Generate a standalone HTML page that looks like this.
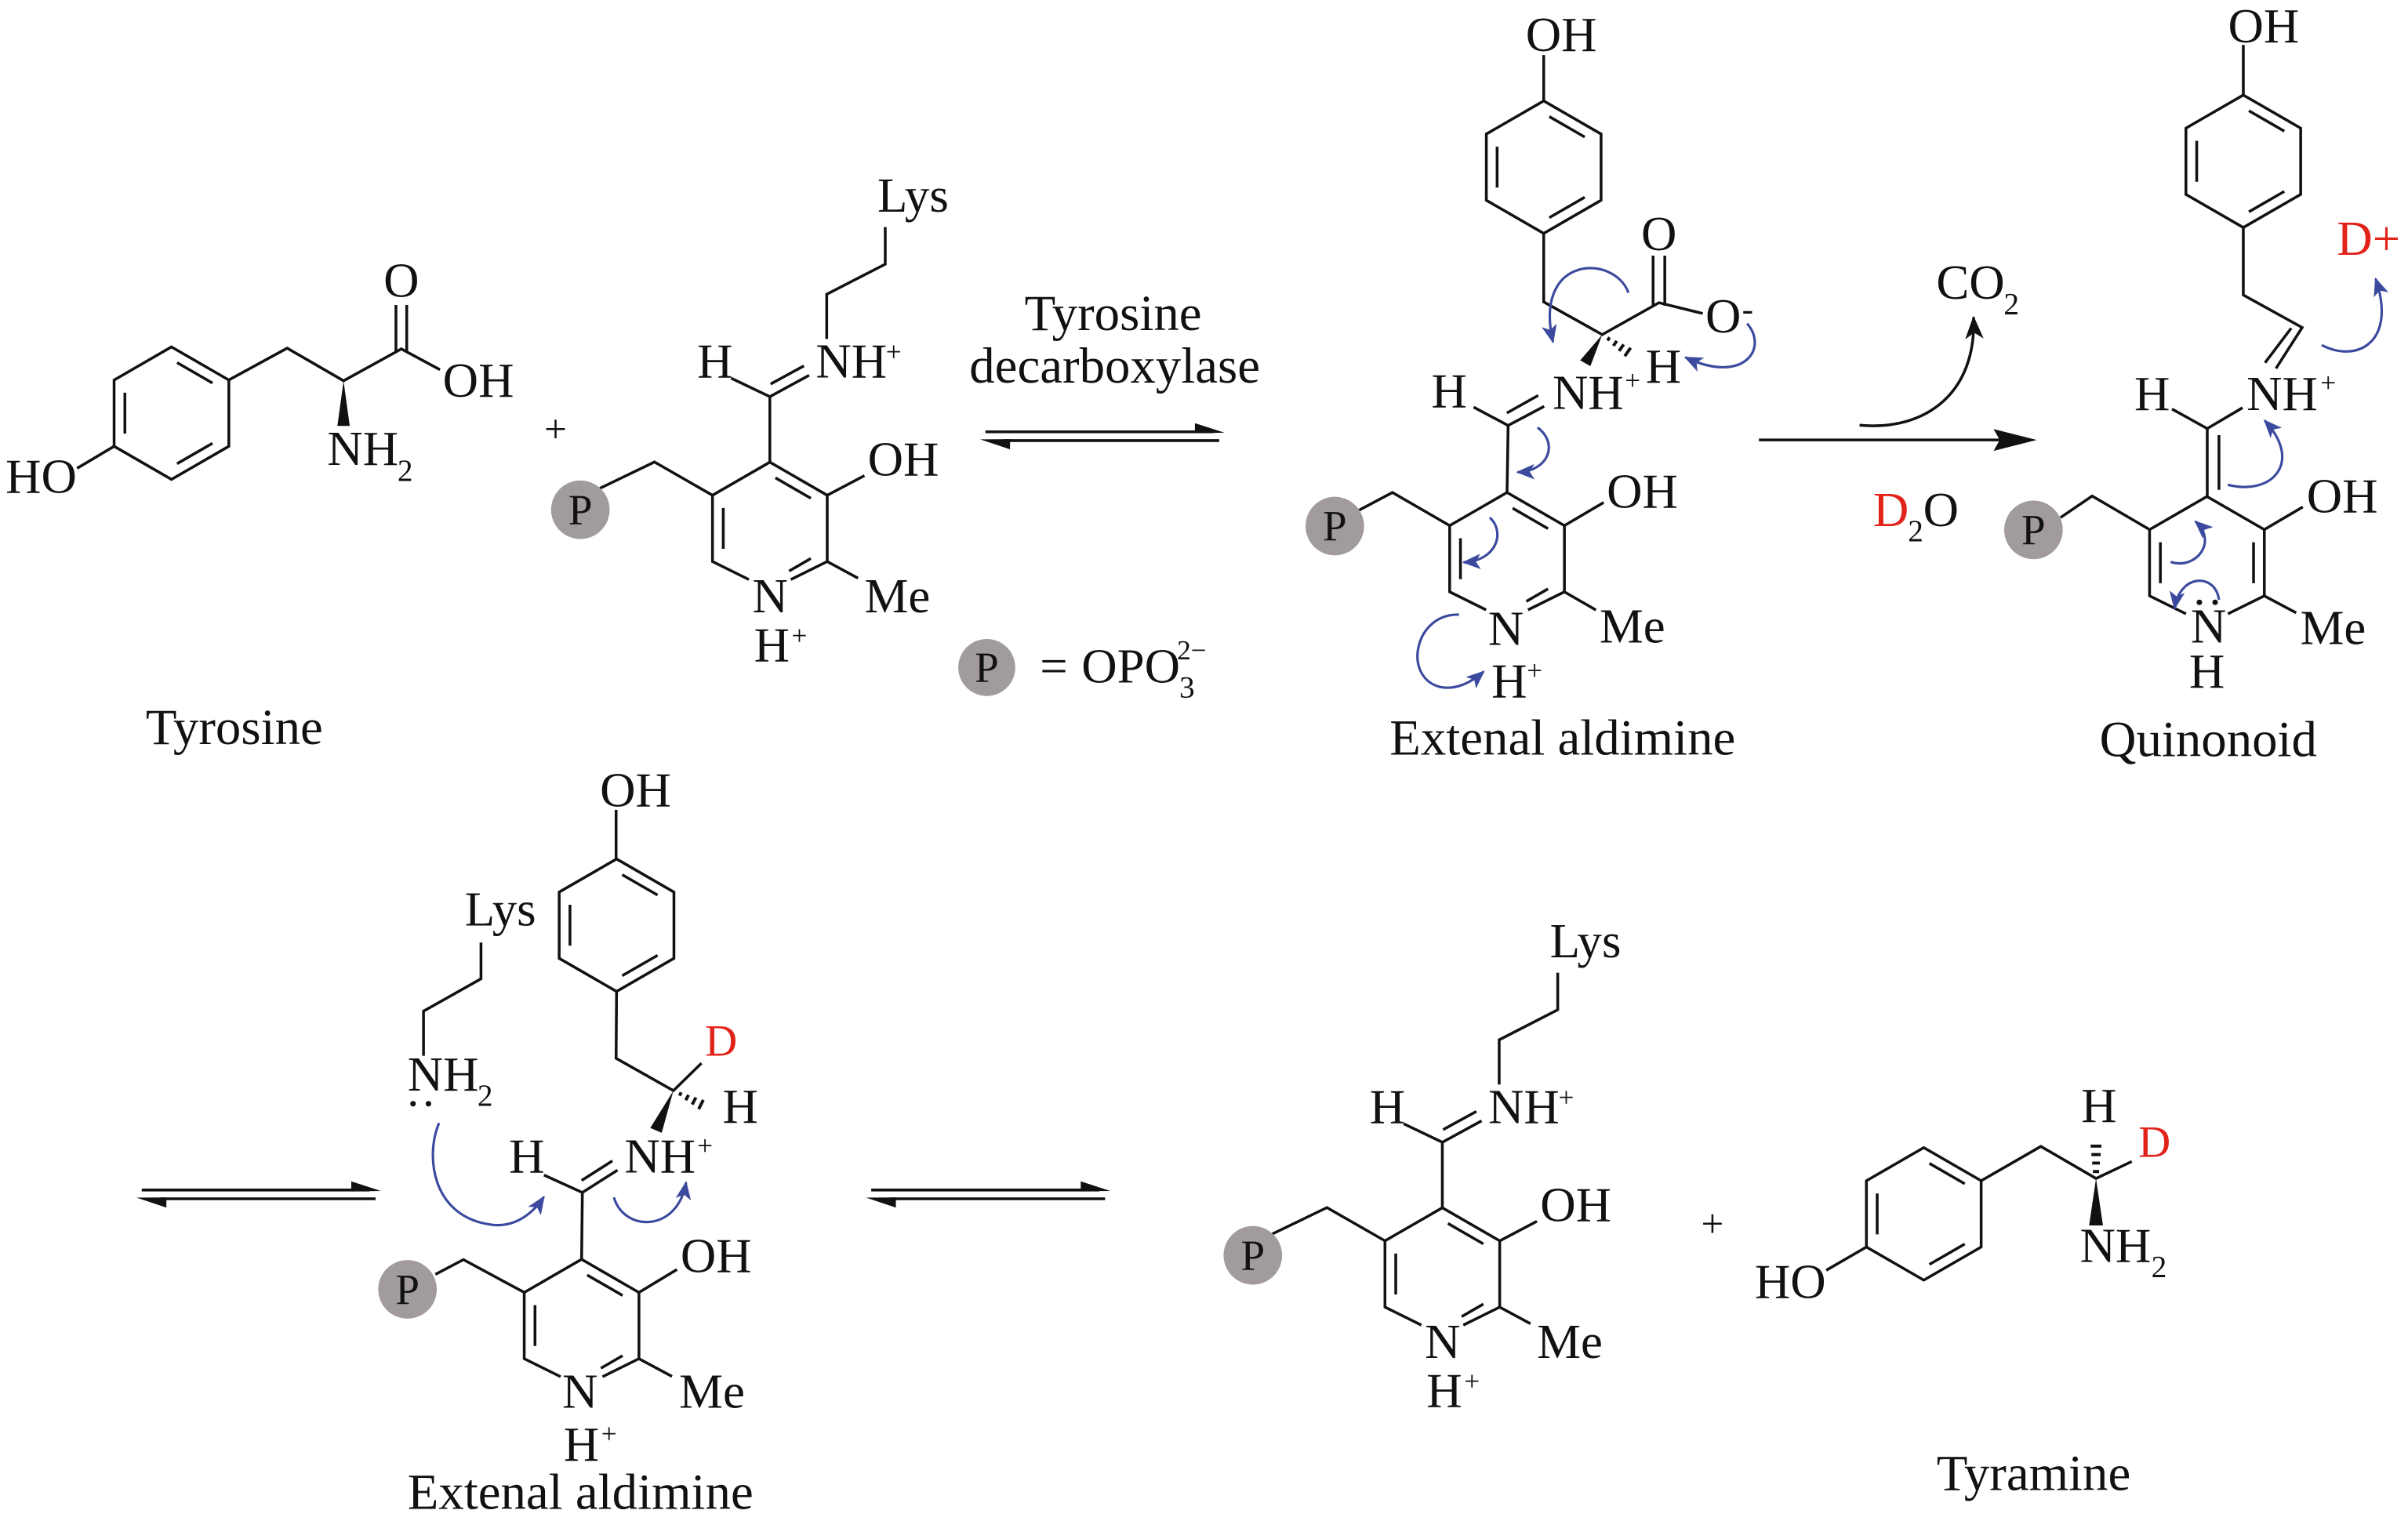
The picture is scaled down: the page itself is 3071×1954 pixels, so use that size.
<!DOCTYPE html>
<html><head><meta charset="utf-8"><style>
html,body{margin:0;padding:0;background:#fff;}
svg{display:block;}
text{font-family:"Liberation Serif","Times New Roman",serif;fill:#111;}
</style></head><body>
<svg xmlns="http://www.w3.org/2000/svg" width="3071" height="1954" viewBox="0 0 1563 994.5" preserveAspectRatio="none">
<defs>
<path id="benz" d="M0,-43 L37.24,-21.5 L37.24,21.5 L0,43 L-37.24,21.5 L-37.24,-21.5 Z M3.63,-32.81 L26.61,-19.55 M-30.24,-13.27 L-30.24,13.27 M26.61,19.55 L3.63,32.81"/>
<path id="pyr" d="M-13.6,33.2 L-37.24,21.5 L-37.24,-21.5 L0,-43 L37.24,-21.5 L37.24,21.5 L13.6,33.2 M3.63,-32.81 L26.61,-19.55 M-30.24,-13.27 L-30.24,13.27 M26.61,19.55 L12.5,27.7"/>
<path id="quin" d="M-13.6,33.2 L-37.24,21.5 L-37.24,-21.5 L0,-43 L37.24,-21.5 L37.24,21.5 L13.6,33.2 M-30.24,-13.27 L-30.24,13.27 M30.24,-13.27 L30.24,13.27"/>
<marker id="bh" viewBox="-13 -6 15 12" markerWidth="15" markerHeight="12" refX="0" refY="0" orient="auto" markerUnits="userSpaceOnUse"><path d="M1,0 L-11,-5 L-8,0 L-11,5 Z" fill="#3b4a9e" stroke="none"/></marker>
<marker id="kh" viewBox="-16 -7 18 14" markerWidth="18" markerHeight="14" refX="0" refY="0" orient="auto" markerUnits="userSpaceOnUse"><path d="M1,0 L-14,-6 L-10,0 L-14,6 Z" fill="#111" stroke="none"/></marker>
</defs>

<g fill="none" stroke="#111" stroke-width="1.8" stroke-linejoin="miter" stroke-linecap="butt">
  <use href="#benz" transform="translate(111.3,268.2)"/>
  <path d="M74.1,289.7 L50,304 M148.5,246.7 L186.4,226 L223,247.2 L260.5,226.5 L285.6,240 M257,228.4 L257,198 M264,228.4 L264,198"/>

  <use href="#pyr" transform="translate(936.2,827)"/>
  <path d="M936.2,784 L936.2,741.5 L911.1,729.5 M936.2,741.5 L961.7,727.6 M936.7,733.3 L958.3,721.5 M973.1,704 L973.1,675 L1011.1,655.5 L1011.1,631.4 M973.44,805.5 L997.6,792.8 M973.44,848.5 L993.4,859.3 M898.96,805.5 L861.3,783.9 L825.9,801"/>

  <g transform="translate(-436.5,-484)">
    <use href="#pyr" transform="translate(936.2,827)"/>
    <path d="M936.2,784 L936.2,741.5 L911.1,729.5 M936.2,741.5 L961.7,727.6 M936.7,733.3 L958.3,721.5 M973.1,704 L973.1,675 L1011.1,655.5 L1011.1,631.4 M973.44,805.5 L997.6,792.8 M973.44,848.5 L993.4,859.3 M898.96,805.5 L861.3,783.9 L825.9,801"/>
  </g>

  <use href="#pyr" transform="translate(978.2,362.7)"/>
  <path d="M978.2,319.7 L978.9,276.2 L956.5,264.3 M978.9,276.2 L1002.3,263.8 M978.1,268.1 L998.4,256.7 M1015.44,341.2 L1040.9,326.2 M1015.44,384.2 L1035.9,396 M940.96,341.2 L903.8,319.7 L879.3,332.7"/>
  <path d="M1002,35.7 L1002,65.5"/>
  <use href="#benz" transform="translate(1002,108.5)"/>
  <path d="M1002,151.5 L1002,196 L1040,217.2 L1076.8,196.5 L1105.2,203.5 M1073,198.5 L1073,166 M1080.6,198.5 L1080.6,166"/>
  <path stroke-width="2" d="M1043.4,221 L1044.8,219 M1047.2,224.5 L1049.4,221.3 M1050.9,227.8 L1053.9,223.6 M1054.6,231.2 L1058.4,225.8"/>

  <path d="M1141.7,285.6 L1300,285.6"/>
  <path d="M1207,276 C1250,280 1283,255 1281,206" marker-end="url(#kh)"/>

  <path d="M1456.1,29.2 L1456.1,61.7"/>
  <use href="#benz" transform="translate(1456.1,104.7)"/>
  <path d="M1456.1,147.7 L1456.1,191.5 L1494.3,212.6 L1477.3,239.2 M1487.2,213 L1470.2,235.5 M1409.8,265.5 L1432.7,278.2 L1455.6,264.7 M1432.7,278.2 L1432.7,322.3 M1440.3,282.5 L1440.3,318"/>
  <use href="#quin" transform="translate(1432.5,365.3)"/>
  <path d="M1469.7,343.8 L1494.7,329.1 M1469.7,386.8 L1490.4,397.8 M1395.3,343.8 L1358,322 L1337.4,336"/>

  <path d="M399.9,525.7 L399.9,558"/>
  <use href="#benz" transform="translate(400.2,600.6)"/>
  <path d="M400.2,643.6 L399.9,687 L437.1,708 L455.3,690.2"/>
  <path stroke-width="2" d="M441.1,711.3 L442.1,709.1 M445.1,714.2 L446.9,710.8 M449.3,717 L451.7,712.4 M453.5,720 L456.5,714"/>
  <path d="M353.1,762.8 L378,774.1 L400.8,759.6 M377.5,766.3 L397.5,753.6 M378,774.1 L377.5,817.5"/>
  <use href="#pyr" transform="translate(377.5,860.5)"/>
  <path d="M414.7,839 L439.4,824.1 M414.7,882 L436.2,893.5 M340.3,839 L300.8,817.7 L282.6,827.3"/>
  <path d="M312.2,611.8 L312.2,635.4 L274.9,656.4 L274.9,685.4"/>

  <use href="#benz" transform="translate(1248.7,788)"/>
  <path d="M1211.46,809.5 L1185.4,824.6 M1285.94,766.5 L1324.7,744.2 L1360.5,765 L1383.7,754"/>
  <path stroke-width="2" d="M1358.5,760.5 L1362.5,760.5 M1358,755 L1363,755 M1357.5,749.5 L1363.5,749.5 M1357,744 L1364,744"/>

  <g transform="translate(639.6,280.3)">
    <path d="M0,0 L148,0 M12,5.7 L151.8,5.7"/>
  </g>
  <g transform="translate(92,772.5)">
    <path d="M0,0 L148,0 M12,5.7 L151.8,5.7"/>
  </g>
  <g transform="translate(565.5,772.5)">
    <path d="M0,0 L148,0 M12,5.7 L151.8,5.7"/>
  </g>
</g>

<g fill="#111" stroke="none">
  <polygon points="223,247.2 219,276.5 227,276.5"/>
  <polygon points="1040,217.2 1032.3,237.7 1025.7,233.9"/>
  <polygon points="437.1,708 429.5,735.4 422.1,732.2"/>
  <polygon points="1360.5,765 1356,795.5 1365,795.5"/>
  <polygon points="1322,285.6 1294,278.5 1298,285.6 1294,292.7"/>
  <g transform="translate(639.6,280.3)">
    <polygon points="136,-5.6 155.2,0.6 136,0.9"/>
    <polygon points="-3.4,4.9 16,4.8 16,11.4"/>
  </g>
  <g transform="translate(92,772.5)">
    <polygon points="136,-5.6 155.2,0.6 136,0.9"/>
    <polygon points="-3.4,4.9 16,4.8 16,11.4"/>
  </g>
  <g transform="translate(565.5,772.5)">
    <polygon points="136,-5.6 155.2,0.6 136,0.9"/>
    <polygon points="-3.4,4.9 16,4.8 16,11.4"/>
  </g>
  <circle cx="1427.6" cy="391" r="1.8"/>
  <circle cx="1437.8" cy="391" r="1.8"/>
  <circle cx="268.1" cy="716.5" r="1.8"/>
  <circle cx="278.1" cy="716.5" r="1.8"/>
</g>

<g fill="#a19b9b" stroke="none">
  <circle cx="813.2" cy="814.9" r="19"/>
  <circle cx="376.7" cy="330.9" r="19"/>
  <circle cx="866.4" cy="341.5" r="19"/>
  <circle cx="1319.9" cy="344" r="19"/>
  <circle cx="264.5" cy="837" r="19"/>
  <circle cx="640.5" cy="433.3" r="18.5"/>
</g>

<g fill="none" stroke="#3b4a9e" stroke-width="1.6" marker-end="url(#bh)">
  <path d="M1057,190 C1048,165 995,165 1008,222"/>
  <path d="M1134,210 C1148,226 1132,250 1094,232"/>
  <path d="M998,277.5 C1012,288 1005,306 985,306.5"/>
  <path d="M967,336 C977,345 972,364 950,365"/>
  <path d="M947,399 C918,398 910,440 935,446 C945,448 955,443 963,436"/>
  <path d="M1507,224 C1530,236 1556,222 1542,181"/>
  <path d="M1446,314.7 C1475,322 1495,300 1470,273"/>
  <path d="M1409,364.8 C1425,370 1440,352 1425,338.5"/>
  <path d="M1440.3,389.3 C1438,372 1415,372 1411.5,395"/>
  <path d="M285,729 C276,750 280,790 319,795 C333,797 345,789 353,777"/>
  <path d="M398.5,777.3 C405,800 440,800 445.3,767.6"/>
</g>

<g font-size="32">
  <text x="3.6" y="320">HO</text>
  <text x="260.5" y="192.7" text-anchor="middle">O</text>
  <text x="287.4" y="257.6">OH</text>
  <text x="212.4" y="301.8">NH</text><text x="258" y="312" font-size="20">2</text>
  <text x="94.6" y="483" font-size="33">Tyrosine</text>
  <text x="360.6" y="287" font-size="26" text-anchor="middle">+</text>

  <g transform="translate(-436.5,-484)">
    <text x="889" y="729">H</text>
    <text x="966" y="729">NH</text><text x="1016.6" y="718.3" font-size="18" text-anchor="middle">+</text>
    <text x="1006" y="621.4">Lys</text>
    <text x="999.7" y="792.8">OH</text>
    <text x="997.6" y="881.5">Me</text>
    <text x="936.4" y="881.5" text-anchor="middle">N</text>
    <text x="925.9" y="913.3">H</text><text x="955.4" y="902.7" font-size="18" text-anchor="middle">+</text>
    <text x="813.2" y="824.2" font-size="28" text-anchor="middle">P</text>
  </g>

  <text x="665" y="214.2" font-size="33">Tyrosine</text>
  <text x="629.2" y="248.3" font-size="33">decarboxylase</text>
  <text x="640.5" y="442.6" font-size="28" text-anchor="middle">P</text>
  <text x="675" y="443">=</text>
  <text x="702" y="443">OPO</text>
  <text x="765.5" y="452.8" font-size="20">3</text>
  <text x="764" y="428" font-size="18">2−</text>

  <text x="990.3" y="33.1">OH</text>
  <text x="1076.8" y="162.3" text-anchor="middle">O</text>
  <text x="1107" y="215.9">O</text><text x="1134.4" y="207.8" font-size="22" text-anchor="middle">-</text>
  <text x="1068.2" y="248.3">H</text>
  <text x="929.1" y="264.5">H</text>
  <text x="1007.7" y="265.5">NH</text><text x="1059.7" y="253" font-size="18" text-anchor="middle">+</text>
  <text x="1042.9" y="329.5">OH</text>
  <text x="1038.2" y="417">Me</text>
  <text x="977.4" y="418.7" text-anchor="middle">N</text>
  <text x="968.1" y="452.8">H</text><text x="996.1" y="441.2" font-size="18" text-anchor="middle">+</text>
  <text x="866.4" y="350.8" font-size="28" text-anchor="middle">P</text>
  <text x="902" y="490" font-size="33">Extenal aldimine</text>

  <text x="1256.8" y="194">CO</text><text x="1300.6" y="203.9" font-size="20">2</text>
  <text x="1215.8" y="341.5" style="fill:#e2231a">D</text><text x="1238.4" y="351.2" font-size="20">2</text><text x="1248.3" y="341.5">O</text>

  <text x="1446.2" y="27.6">OH</text>
  <text x="1516.9" y="165.5" style="fill:#e2231a">D+</text>
  <text x="1385.4" y="266.2">H</text>
  <text x="1458.2" y="266.3">NH</text><text x="1511.2" y="254.6" font-size="18" text-anchor="middle">+</text>
  <text x="1497.2" y="332.5">OH</text>
  <text x="1493" y="418">Me</text>
  <text x="1433.5" y="417" text-anchor="middle">N</text>
  <text x="1432.5" y="446.3" text-anchor="middle">H</text>
  <text x="1319.9" y="353.3" font-size="28" text-anchor="middle">P</text>
  <text x="1362.8" y="490.8" font-size="33">Quinonoid</text>

  <text x="389.4" y="523.4">OH</text>
  <text x="301.7" y="600.9">Lys</text>
  <text x="264.5" y="708">NH</text><text x="309.9" y="717.6" font-size="20">2</text>
  <text x="457.6" y="685.4" font-size="29" style="fill:#e2231a">D</text>
  <text x="469" y="728.9">H</text>
  <text x="330.4" y="761.2">H</text>
  <text x="405.3" y="761.2">NH</text><text x="457.6" y="749.7" font-size="18" text-anchor="middle">+</text>
  <text x="441.7" y="825.7">OH</text>
  <text x="440.8" y="913.8">Me</text>
  <text x="376.5" y="913.8" text-anchor="middle">N</text>
  <text x="365.8" y="948.3">H</text><text x="395.3" y="936.8" font-size="18" text-anchor="middle">+</text>
  <text x="264.5" y="846.3" font-size="28" text-anchor="middle">P</text>
  <text x="264.5" y="979.6" font-size="33">Extenal aldimine</text>

  <text x="889" y="729">H</text>
  <text x="966" y="729">NH</text><text x="1016.6" y="718.3" font-size="18" text-anchor="middle">+</text>
  <text x="1006" y="621.4">Lys</text>
  <text x="999.7" y="792.8">OH</text>
  <text x="997.6" y="881.5">Me</text>
  <text x="936.4" y="881.5" text-anchor="middle">N</text>
  <text x="925.9" y="913.3">H</text><text x="955.4" y="902.7" font-size="18" text-anchor="middle">+</text>
  <text x="813.2" y="824.2" font-size="28" text-anchor="middle">P</text>
  <text x="1111.5" y="803" font-size="26" text-anchor="middle">+</text>

  <text x="1139" y="842.6">HO</text>
  <text x="1350.8" y="728.4">H</text>
  <text x="1388" y="751" font-size="29" style="fill:#e2231a">D</text>
  <text x="1350" y="819.1">NH</text><text x="1396.4" y="828.8" font-size="20">2</text>
  <text x="1257" y="967.4" font-size="33">Tyramine</text>
</g>
</svg>
</body></html>
